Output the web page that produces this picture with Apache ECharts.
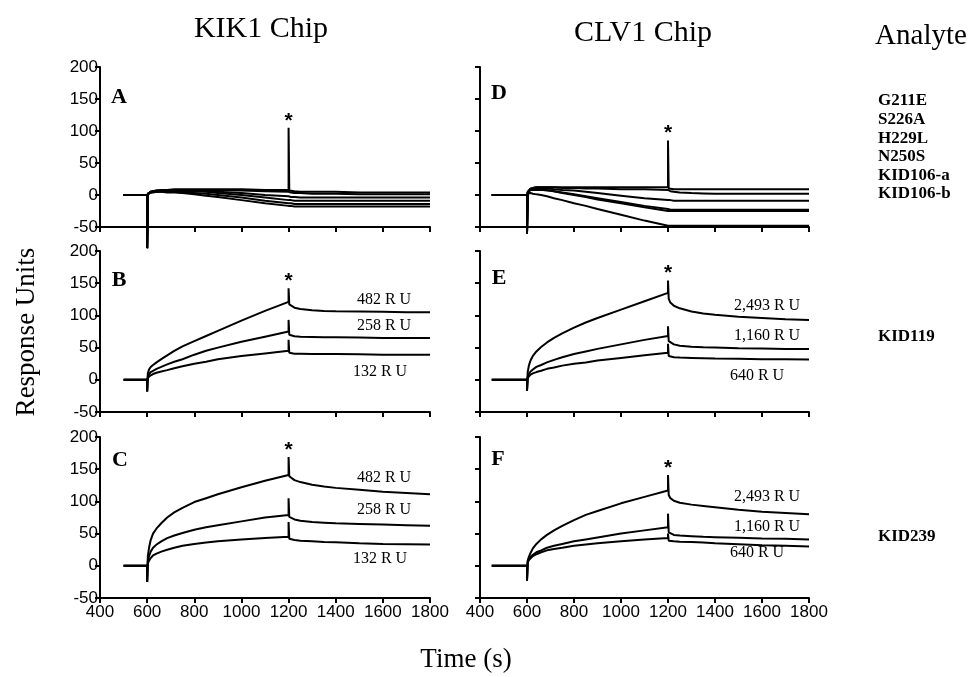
<!DOCTYPE html>
<html>
<head>
<meta charset="utf-8">
<script src="https://cdn.jsdelivr.net/npm/echarts@6/dist/echarts.min.js"></script>
<style>
  html, body { margin: 0; padding: 0; background: #fff; }
  #chart { width: 975px; height: 677px; }
</style>
</head>
<body>
<div id="chart"></div>
<script>
// time points (s); 600 = injection start, 1200 = injection end (spike)
const KIK_TIME = [500, 600, 600, 603, 608, 615, 625, 640, 660, 685, 715, 750, 800, 850, 900, 1000, 1100, 1200, 1200, 1203, 1210, 1225, 1250, 1300, 1350, 1400, 1500, 1600, 1700, 1800];
const CLV_TIME = [450, 600, 600, 603, 608, 615, 625, 640, 660, 685, 715, 750, 800, 850, 900, 1000, 1100, 1200, 1200, 1203, 1210, 1225, 1250, 1300, 1350, 1400, 1500, 1600, 1700, 1800];
const SPIKE = 18; // index of the 1200 s spike top

const ANALYTES = ['G211E', 'S226A', 'H229L', 'N250S', 'KID106-a', 'KID106-b'];
const LEVELS_KIK = ['482 R U', '258 R U', '132 R U'];
const LEVELS_CLV = ['2,493 R U', '1,160 R U', '640 R U'];

// panel A: KIK1 chip, mutant analytes
const A1 = [0, 0, -83, 2, 4, 5, 6, 7, 8, 8, 9, 9, 9, 9, 9, 9, 8, 8, 105, 7, 6, 6, 5, 5, 5, 5, 4, 4, 4, 4];
const A2 = [0, 0, -83, 2, 4, 5, 6, 7, 7, 8, 8, 8, 8, 8, 8, 7, 6, 5, 5, 4, 4, 3, 3, 2, 2, 2, 1, 1, 1, 1];
const A3 = [0, 0, -83, 2, 3, 5, 6, 6, 7, 7, 7, 7, 7, 6, 5, 3, 0, -2, -2, -3, -3, -3, -4, -4, -4, -4, -4, -4, -4, -4];
const A4 = [0, 0, -83, 2, 3, 4, 5, 6, 6, 6, 6, 6, 6, 5, 3, 0, -4, -8, -8, -8, -8, -9, -9, -9, -9, -9, -9, -9, -9, -9];
const A5 = [0, 0, -83, 1, 3, 4, 5, 5, 5, 5, 5, 4, 3, 2, 0, -4, -9, -13, -13, -13, -13, -14, -14, -14, -14, -14, -14, -14, -14, -14];
const A6 = [0, 0, -83, 1, 3, 4, 4, 5, 5, 4, 4, 3, 1, -1, -3, -8, -13, -17, -17, -17, -17, -18, -18, -18, -18, -18, -18, -18, -18, -18];

// panel D: CLV1 chip, mutant analytes
const D1 = [0, 0, -60, 5, 8, 10, 11, 12, 12, 12, 12, 12, 12, 12, 12, 12, 12, 12, 85, 10, 10, 9, 9, 9, 9, 9, 9, 9, 9, 9];
const D2 = [0, 0, -60, 5, 8, 10, 11, 12, 12, 12, 12, 11, 11, 10, 10, 9, 9, 8, 8, 7, 6, 5, 4, 3, 2.5, 2, 2, 2, 2, 2];
const D3 = [0, 0, -60, 4, 7, 9, 10, 10, 10, 10, 9, 8, 7, 5, 3, -1, -5, -8, -8, -8, -8, -9, -9, -9, -9, -9, -9, -9, -9, -9];
const D4 = [0, 0, -60, 4, 7, 8, 9, 9, 9, 8, 6, 4, 1, -2, -5, -11, -17, -22, -22, -22, -23, -23, -23, -23, -23, -23, -23, -23, -23, -23];
const D5 = [0, 0, -60, 3, 6, 8, 8, 8, 8, 7, 6, 3, 0, -3, -7, -13, -19, -25, -25, -25, -25, -25, -25, -25, -25, -25, -25, -25, -25, -25];
const D6 = [0, 0, -60, 2, 3, 3, 2, 1, 0, -2, -5, -8, -13, -17, -22, -31, -40, -48, -48, -48, -48, -48, -48, -48, -48, -48, -48, -48, -48, -48];

// panel B: KIK1 chip, KID119
const B482 = [0, 0, -18, 10, 16, 20, 23, 27, 32, 38, 45, 52, 60, 68, 76, 92, 107, 121, 142, 117, 114, 112, 110, 108, 107, 106.5, 106, 105.5, 105, 105];
const B258 = [0, 0, -18, 6, 9, 12, 14, 17, 20, 24, 28, 32, 39, 45, 50, 59, 67, 75, 93, 70, 68.5, 67.5, 67, 66.5, 66, 66, 65.5, 65, 65, 65];
const B132 = [0, 0, -18, 3, 5, 7, 9, 11, 13, 15, 18, 21, 25, 28, 32, 37, 41, 45, 62, 42, 41, 40.5, 40.5, 40, 40, 40, 39.5, 39, 39, 39];

// panel E: CLV1 chip, KID119
const E2493 = [0, 0, -17, 12, 22, 30, 37, 44, 51, 58, 65, 72, 81, 89, 96, 109, 122, 135, 154, 126, 120, 115, 111, 106, 103, 101, 98, 96, 94, 93];
const E1160 = [0, 0, -17, 5, 9, 13, 16, 20, 23, 27, 31, 35, 40, 44, 48, 55, 62, 68, 83, 60, 57, 55, 53, 51.5, 50.5, 50, 49, 48.5, 48, 48];
const E640 = [0, 0, -17, 3, 6, 8, 10, 12, 14, 17, 19, 22, 25, 27, 30, 34, 38, 42, 56, 37, 36, 35, 34.5, 34, 33.5, 33, 32.5, 32, 32, 31.5];

// panel C: KIK1 chip, KID239
const C482 = [0, 0, -25, 15, 28, 40, 50, 58, 66, 75, 83, 90, 99, 105, 111, 122, 132, 141, 169, 139, 136, 133, 130, 126, 123, 121, 118, 115, 113, 111];
const C258 = [0, 0, -25, 8, 15, 22, 28, 33, 38, 43, 47, 51, 56, 60, 63, 69, 75, 79, 105, 76, 74, 72, 70, 68, 67, 66, 65, 64, 63, 62];
const C132 = [0, 0, -25, 4, 8, 12, 16, 19, 22, 25, 28, 31, 34, 36, 38, 41, 43, 45, 68, 42, 41, 40, 39, 38, 37, 36.5, 35, 34, 33.5, 33];

// panel F: CLV1 chip, KID239
const F2493 = [0, 0, -23, 8, 14, 20, 27, 34, 41, 48, 55, 62, 71, 79, 85, 97, 107, 117, 141, 110, 105, 101, 98, 95, 93, 91, 87, 84, 82, 80];
const F1160 = [0, 0, -23, 6, 10, 14, 17, 21, 24, 28, 31, 34, 38, 41, 44, 50, 55, 60, 81, 52, 50, 48, 47, 46, 45, 44.5, 43.5, 42.5, 42, 41];
const F640 = [0, 0, -23, 5, 9, 12, 15, 18, 21, 24, 26, 28, 31, 33, 35, 38, 41, 43, 50, 39, 38.5, 38, 37.5, 37, 36, 35, 33.5, 32, 31, 30];

const SERIF = '"Liberation Serif", "DejaVu Serif", serif';
const SANS = '"Liberation Sans", Arial, sans-serif';

const PANELS = [
  { letter: 'A', time: KIK_TIME, curves: [A1, A2, A3, A4, A5, A6] },
  { letter: 'D', time: CLV_TIME, curves: [D1, D2, D3, D4, D5, D6] },
  { letter: 'B', time: KIK_TIME, curves: [B482, B258, B132] },
  { letter: 'E', time: CLV_TIME, curves: [E2493, E1160, E640] },
  { letter: 'C', time: KIK_TIME, curves: [C482, C258, C132] },
  { letter: 'F', time: CLV_TIME, curves: [F2493, F1160, F640] }
];

const ROWS = [{ top: 67, height: 160 }, { top: 251, height: 161 }, { top: 437, height: 161 }];
const COLS = [{ left: 100, width: 330 }, { left: 480, width: 329 }];

const grids = [], xAxes = [], yAxes = [], series = [];
PANELS.forEach((p, i) => {
  const row = Math.floor(i / 2), col = i % 2;
  grids.push({ left: COLS[col].left, width: COLS[col].width, top: ROWS[row].top, height: ROWS[row].height });
  xAxes.push({
    gridIndex: i, type: 'value', min: 400, max: 1800, interval: 200,
    axisLine: { onZero: false, lineStyle: { color: '#000', width: 2 } },
    axisTick: { length: 5, lineStyle: { color: '#000', width: 2 } },
    axisLabel: { show: row === 2, color: '#000', fontFamily: SANS, fontSize: 17, margin: 6, formatter: v => String(v) },
    splitLine: { show: false }
  });
  yAxes.push({
    gridIndex: i, type: 'value', min: -50, max: 200, interval: 50,
    axisLine: { show: true, lineStyle: { color: '#000', width: 2 } },
    axisTick: { show: true, length: 5, lineStyle: { color: '#000', width: 2 } },
    axisLabel: { show: col === 0, color: '#000', fontFamily: SANS, fontSize: 17, margin: 2 },
    splitLine: { show: false }
  });
  p.curves.forEach((vals, k) => {
    const s = {
      type: 'line', xAxisIndex: i, yAxisIndex: i,
      data: p.time.map((t, j) => [t, vals[j]]),
      showSymbol: false, symbol: 'none', clip: false, silent: true,
      lineStyle: { color: '#000', width: 2 }
    };
    if (k === 0) {
      // asterisk above the injection-end spike
      s.markPoint = {
        silent: true, symbol: 'rect', symbolSize: [1, 1],
        itemStyle: { color: 'rgba(0,0,0,0)' },
        label: { show: true, formatter: '*', position: 'top', distance: -4, color: '#000', fontFamily: SANS, fontSize: 21, fontWeight: 'bold' },
        data: [{ coord: [p.time[SPIKE], vals[SPIKE]] }]
      };
    }
    series.push(s);
  });
});

const text = (x, y, str, font, align) => ({
  type: 'text', x: x, y: y, silent: true,
  style: { text: str, fill: '#000', font: font, textAlign: align || 'center', textVerticalAlign: 'middle' }
});

const graphic = [
  text(261, 29, 'KIK1 Chip', '30px ' + SERIF),
  text(643, 33, 'CLV1 Chip', '30px ' + SERIF),
  text(921, 36, 'Analyte', '29px ' + SERIF),
  text(466, 660, 'Time (s)', '27px ' + SERIF),
  { type: 'text', x: 27, y: 332, rotation: Math.PI / 2, silent: true,
    style: { text: 'Response Units', fill: '#000', font: '27px ' + SERIF, textAlign: 'center', textVerticalAlign: 'middle' } },
  text(878, 337, 'KID119', 'bold 17px ' + SERIF, 'left'),
  text(878, 537, 'KID239', 'bold 17px ' + SERIF, 'left'),
  // RU levels, KIK1 chip
  text(384, 300, LEVELS_KIK[0], '16px ' + SERIF),
  text(384, 326, LEVELS_KIK[1], '16px ' + SERIF),
  text(380, 372, LEVELS_KIK[2], '16px ' + SERIF),
  text(384, 478, LEVELS_KIK[0], '16px ' + SERIF),
  text(384, 510, LEVELS_KIK[1], '16px ' + SERIF),
  text(380, 559, LEVELS_KIK[2], '16px ' + SERIF),
  // RU levels, CLV1 chip
  text(767, 306, LEVELS_CLV[0], '16px ' + SERIF),
  text(767, 336, LEVELS_CLV[1], '16px ' + SERIF),
  text(757, 376, LEVELS_CLV[2], '16px ' + SERIF),
  text(767, 497, LEVELS_CLV[0], '16px ' + SERIF),
  text(767, 527, LEVELS_CLV[1], '16px ' + SERIF),
  text(757, 553, LEVELS_CLV[2], '16px ' + SERIF)
];
// panel letters
const LETTER_POS = [[119, 97], [499, 93], [119, 280], [499, 278], [120, 460], [498, 459]];
PANELS.forEach((p, i) => graphic.push(text(LETTER_POS[i][0], LETTER_POS[i][1], p.letter, 'bold 22px ' + SERIF)));
// analyte names of panels A and D
ANALYTES.forEach((name, k) => graphic.push(text(878, 101 + k * 18.6, name, 'bold 17px ' + SERIF, 'left')));

const chart = echarts.init(document.getElementById('chart'), null, { renderer: 'canvas' });
chart.setOption({
  animation: false,
  backgroundColor: '#fff',
  grid: grids,
  xAxis: xAxes,
  yAxis: yAxes,
  series: series,
  graphic: graphic
});
</script>
</body>
</html>
